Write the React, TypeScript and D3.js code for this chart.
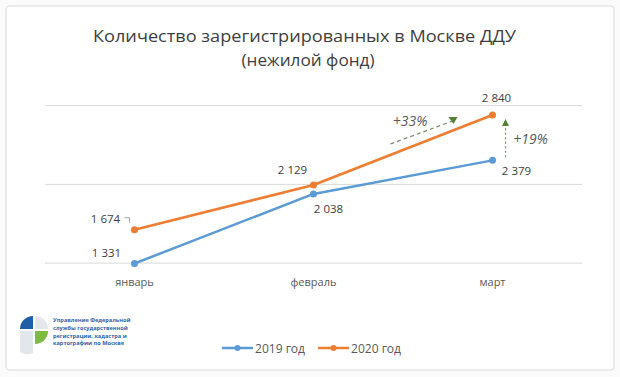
import React from "react";
import * as d3 from "d3";

const categories = ["январь", "февраль", "март"];
const series2019 = [1331, 2038, 2379];
const series2020 = [1674, 2129, 2840];
const seriesNames = ["2019 год", "2020 год"];
const gridValues = [1335, 2135, 2935];
const titleLines = ["Количество зарегистрированных в Москве ДДУ", "(нежилой фонд)"];
const growthLabels = ["+33%", "+19%"];
const logoLines = [
  "Управление Федеральной",
  "службы государственной",
  "регистрации, кадастра и",
  "картографии по Москве",
];

const W = 620;
const H = 377;
const BLUE = "#5b9bd5";
const ORANGE = "#ed7d31";
const GREEN = "#548235";
const FONT = "'Open Sans', 'Noto Sans', sans-serif";

export default function App() {
  const x = d3.scalePoint<string>().domain(categories).range([45, 582]).padding(0.5);
  const y = d3.scaleLinear().domain([1331, 2840]).range([263.5, 115]);
  const line = d3
    .line<number>()
    .x((_, i) => x(categories[i]) as number)
    .y((d) => y(d));
  const fmt = (v: number) => d3.format(",")(v).replace(",", " ");

  const xs = categories.map((c) => x(c) as number);

  const off2019 = [
    [-28, -7],
    [15, 19],
    [24, 15],
  ];
  const off2020 = [
    [-29, -7],
    [-21, -11],
    [4, -13],
  ];

  const arrowStart: [number, number] = [xs[1] + 77, y(2129) - 41];
  const arrowEnd: [number, number] = [xs[2] - 40, y(2840) + 6];
  const vx = xs[2] + 13;

  return (
    <svg
      width={W}
      height={H}
      style={{ position: "absolute", left: 0, top: 0, background: "#fff" }}
      fontFamily={FONT}
    >
      <rect x={0} y={0} width={W} height={H} fill="#fbfbfb" />
      <rect x={6} y={6} width={608} height={364} rx={3} fill="#ffffff" stroke="#d9d9d9" strokeWidth={1} />

      {titleLines.map((t, i) => (
        <text
          key={i}
          x={i === 0 ? 304.5 : 308}
          y={i === 0 ? 42 : 66}
          textAnchor="middle"
          fontSize={17}
          fill="#404040"
          textLength={i === 0 ? 423 : 133}
          lengthAdjust="spacingAndGlyphs"
        >
          {t}
        </text>
      ))}

      {gridValues.map((g) => (
        <line key={g} x1={45} x2={582} y1={y(g)} y2={y(g)} stroke="#d9d9d9" strokeWidth={1} />
      ))}

      {categories.map((c) => (
        <text key={c} x={x(c)} y={286} textAnchor="middle" fontSize={11} fill="#595959">
          {c}
        </text>
      ))}

      <path d={line(series2019) || ""} fill="none" stroke={BLUE} strokeWidth={2.5} strokeLinejoin="round" />
      <path d={line(series2020) || ""} fill="none" stroke={ORANGE} strokeWidth={2.5} strokeLinejoin="round" />
      {series2019.map((v, i) => (
        <circle key={"b" + i} cx={xs[i]} cy={y(v)} r={3.5} fill={BLUE} />
      ))}
      {series2020.map((v, i) => (
        <circle key={"o" + i} cx={xs[i]} cy={y(v)} r={3.5} fill={ORANGE} />
      ))}

      {series2019.map((v, i) => (
        <text
          key={"lb" + i}
          x={xs[i] + off2019[i][0]}
          y={y(v) + off2019[i][1]}
          textAnchor="middle"
          fontSize={11.5}
          fill="#404040"
        >
          {fmt(v)}
        </text>
      ))}
      {series2020.map((v, i) => (
        <text
          key={"lo" + i}
          x={xs[i] + off2020[i][0]}
          y={y(v) + off2020[i][1]}
          textAnchor="middle"
          fontSize={11.5}
          fill="#404040"
        >
          {fmt(v)}
        </text>
      ))}
      <path
        d={`M${xs[0] - 10},${y(series2020[0]) - 12} H${xs[0] - 5} V${y(series2020[0]) - 7}`}
        fill="none"
        stroke="#a6a6a6"
        strokeWidth={1}
      />

      <line
        x1={arrowStart[0]}
        y1={arrowStart[1]}
        x2={arrowEnd[0]}
        y2={arrowEnd[1]}
        stroke="#7f8f70"
        strokeWidth={1.3}
        strokeDasharray="4,3"
      />
      <path
        d={`M${arrowEnd[0] - 4},${arrowEnd[1] - 4} L${arrowEnd[0] + 5},${arrowEnd[1] - 4} L${arrowEnd[0] + 1},${arrowEnd[1] + 3} Z`}
        fill={GREEN}
      />
      <text x={410} y={126} textAnchor="middle" fontSize={14} fontStyle="italic" fill="#595959">
        {growthLabels[0]}
      </text>

      <line
        x1={vx}
        y1={y(series2019[2]) - 3}
        x2={vx}
        y2={y(series2020[2]) + 11}
        stroke="#7f8f70"
        strokeWidth={1.3}
        strokeDasharray="2,2.5"
      />
      <path d={`M${vx - 3.5},${y(series2020[2]) + 11} L${vx + 3.5},${y(series2020[2]) + 11} L${vx},${y(series2020[2]) + 4} Z`} fill={GREEN} />
      <text x={530.5} y={144} textAnchor="middle" fontSize={14} fontStyle="italic" fill="#595959">
        {growthLabels[1]}
      </text>

      {seriesNames.map((n, i) => {
        const lx = 222 + i * 96;
        const col = i === 0 ? BLUE : ORANGE;
        return (
          <g key={n}>
            <line x1={lx} x2={lx + 31} y1={348} y2={348} stroke={col} strokeWidth={2.5} />
            <circle cx={lx + 15.5} cy={348} r={3} fill={col} />
            <text x={lx + 33} y={353} fontSize={13} fill="#595959" textLength={50} lengthAdjust="spacingAndGlyphs">
              {n}
            </text>
          </g>
        );
      })}

      <g>
        <path d="M33,316 A13,13 0 0 0 20,329 L33,329 Z" fill="#1f5fa8" />
        <path d="M35,316 A13,13 0 0 1 48,329 L35,329 Z" fill="#e3e6ea" />
        <path d="M48,331 A13,13 0 0 1 35,344 L35,331 Z" fill="#7dbb42" />
        <path d="M20,331 L33,331 L33,353 Q26,356 20,352 Z" fill="#e3e6ea" />
        {logoLines.map((t, i) => (
          <text key={i} x={53} y={322 + i * 7.8} fontSize={5.6} fill="#2e63a8" fontWeight="bold">
            {t}
          </text>
        ))}
      </g>
    </svg>
  );
}
